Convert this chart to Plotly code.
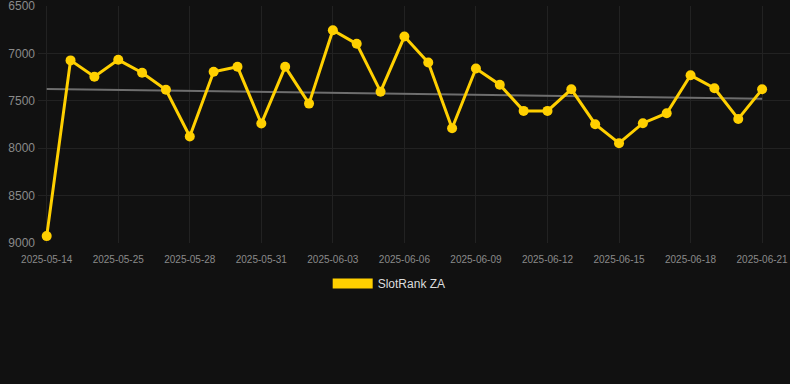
import plotly.graph_objects as go

dates = ["2025-05-14", "2025-05-23", "2025-05-24", "2025-05-25", "2025-05-26", "2025-05-27",
         "2025-05-28", "2025-05-29", "2025-05-30", "2025-05-31", "2025-06-01", "2025-06-02",
         "2025-06-03", "2025-06-04", "2025-06-05", "2025-06-06", "2025-06-07", "2025-06-08",
         "2025-06-09", "2025-06-10", "2025-06-11", "2025-06-12", "2025-06-13", "2025-06-14",
         "2025-06-15", "2025-06-16", "2025-06-17", "2025-06-18", "2025-06-19", "2025-06-20",
         "2025-06-21"]
ranks = [8930, 7072, 7245, 7066, 7203, 7382, 7877, 7192, 7140, 7740, 7140, 7529,
         6753, 6897, 7403, 6820, 7094, 7789, 7157, 7329, 7606, 7606, 7378, 7747,
         7947, 7736, 7631, 7230, 7367, 7691, 7378]
trend_x = [dates[0], dates[-1]]
trend_y = [7375, 7477]
tick_labels = dates[::3]
y_ticks = [6500, 7000, 7500, 8000, 8500, 9000]
series_name = "SlotRank ZA"

YELLOW = "#FFD000"

fig = go.Figure()
fig.add_trace(go.Scatter(
    x=trend_x, y=trend_y, mode="lines",
    line=dict(color="#6e6e6e", width=2), showlegend=False, hoverinfo="skip"))
fig.add_trace(go.Scatter(
    x=dates, y=ranks, mode="lines+markers", name=series_name,
    line=dict(color=YELLOW, width=3), marker=dict(color=YELLOW, size=10),
    showlegend=False))
fig.add_trace(go.Scatter(
    x=[None], y=[None], mode="lines", name=series_name,
    line=dict(color=YELLOW, width=11), showlegend=True))

fig.update_layout(
    width=790, height=384,
    paper_bgcolor="#111111", plot_bgcolor="#111111",
    margin=dict(l=38, r=0, t=6, b=141),
    font=dict(family="Arial, Liberation Sans, sans-serif", color="#999999"),
    legend=dict(orientation="h", x=0.467, xanchor="center", y=-0.11, yanchor="top",
                font=dict(size=12, color="#dddddd"), itemwidth=40,
                bgcolor="rgba(0,0,0,0)"),
    xaxis=dict(type="category", categoryorder="array", categoryarray=dates,
               range=[-0.365, 31.17], tickmode="array", tickvals=tick_labels,
               ticktext=tick_labels, tickfont=dict(size=10, color="#8a8a8a"),
               showgrid=True, gridcolor="#222222", zeroline=False, showline=False,
               ticks="", ticklen=0, ticklabelstandoff=9),
    yaxis=dict(range=[9003, 6497], tickvals=y_ticks,
               tickfont=dict(size=12, color="#8a8a8a"), ticklabeloverflow="allow",
               showgrid=True, gridcolor="#222222", zeroline=False, showline=False,
               ticks="", ticklabelstandoff=2),
)

fig.write_html(
    "out.html",
    config={"displayModeBar": False},
    post_script="document.body.style.margin='0';document.body.style.background='#111111';",
)
